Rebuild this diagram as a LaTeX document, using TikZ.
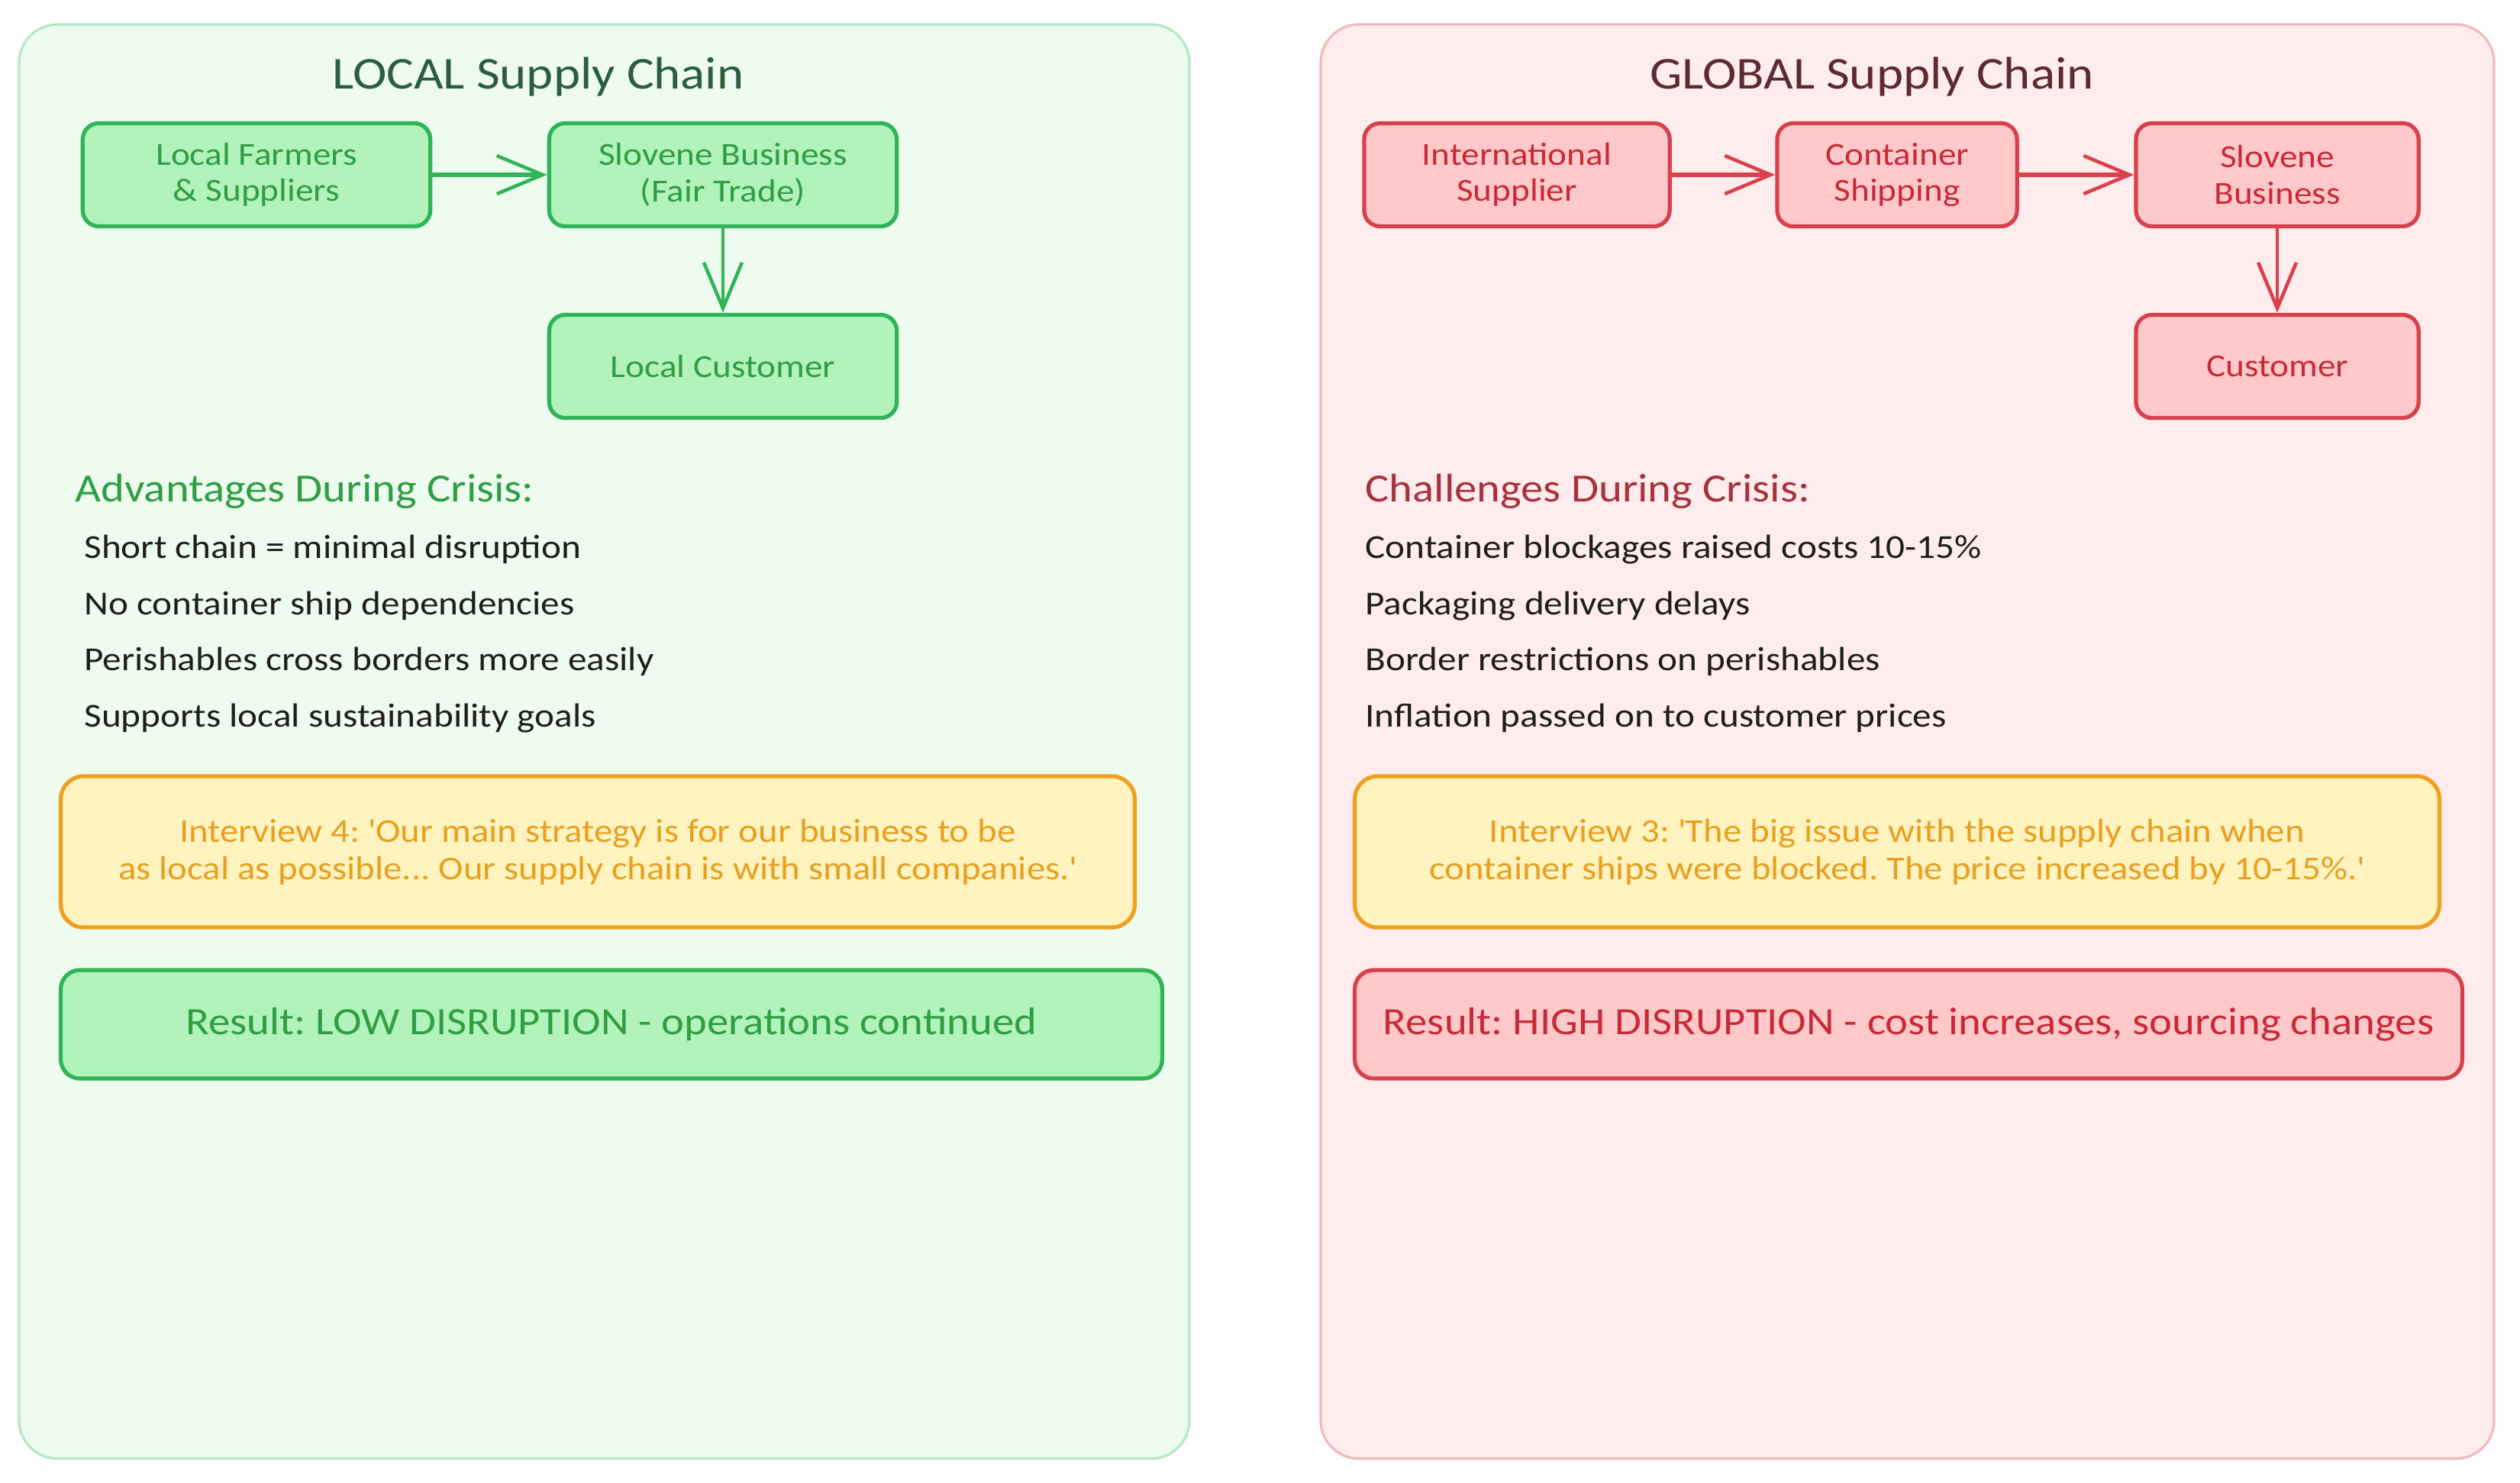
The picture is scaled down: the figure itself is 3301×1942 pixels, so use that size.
\documentclass[tikz,border=0pt]{standalone}
\usepackage{fontspec}
\setmainfont[FakeStretch=1.12]{Carlito}
\usepackage{xcolor}
\usepackage{tikz}
\usetikzlibrary{
    arrows.meta,
    positioning
}
\frenchspacing
\definecolor{panelG}{HTML}{EEFCF0}
\definecolor{panelGline}{HTML}{B4E8C4}
\definecolor{panelR}{HTML}{FFECEC}
\definecolor{panelRline}{HTML}{F2B8BE}
\definecolor{boxG}{HTML}{B2F2BB}
\definecolor{lineG}{HTML}{2FB457}
\definecolor{textG}{HTML}{2F9E44}
\definecolor{titleG}{HTML}{2B5E3C}
\definecolor{boxR}{HTML}{FFC9C9}
\definecolor{lineR}{HTML}{D9404E}
\definecolor{textR}{HTML}{C92A3A}
\definecolor{titleR}{HTML}{5C2A30}
\definecolor{headR}{HTML}{A8323E}
\definecolor{boxY}{HTML}{FFF3BF}
\definecolor{lineY}{HTML}{F0A020}
\definecolor{textY}{HTML}{E8A020}
\definecolor{ink}{HTML}{1E1E1E}
\tikzstyle{arrow} = [
    line width=1.6pt,
    -{Straight Barb[length=6mm,width=5mm,line width=1.3pt]}
]
\tikzstyle{panel} = [
    rounded corners=0.5cm,
    line width=0.9pt
]
\tikzstyle{chainbox} = [
    draw,
    rounded corners=0.21cm,
    line width=1.5pt,
    align=center,
    font=\fontsize{12}{13.5}\selectfont,
    minimum height=1.35cm
]
\tikzstyle{quotebox} = [
    draw=lineY,
    fill=boxY,
    text=textY,
    rounded corners=0.3cm,
    line width=1.5pt,
    align=center,
    font=\fontsize{12.4}{14}\selectfont,
    minimum height=1.98cm
]
\tikzstyle{resultbox} = [
    draw,
    rounded corners=0.25cm,
    line width=1.5pt,
    font=\fontsize{14.4}{16}\selectfont,
    minimum height=1.42cm
]
\tikzstyle{title} = [
    font=\fontsize{17}{20}\selectfont
]
\tikzstyle{heading} = [
    anchor=west,
    font=\fontsize{14.9}{17}\selectfont
]
\tikzstyle{item} = [
    anchor=west,
    text=ink,
    font=\fontsize{12.5}{15}\selectfont
]
\begin{document}
\begin{tikzpicture}[x=0.01cm,y=-0.01cm]
\useasboundingbox (0,0) rectangle (3301,1942);
\draw[panel,fill=panelG,draw=panelGline] (25,32) rectangle (1558,1911);
\draw[panel,fill=panelR,draw=panelRline] (1730,32) rectangle (3267,1911);

\node[title,text=titleG] (titleL) at (705,101) {LOCAL Supply Chain};
\node[chainbox,draw=lineG,fill=boxG,text=textG,minimum width=4.55cm] (farmers) at (336,229) {Local Farmers\\\& Suppliers};
\node[chainbox,draw=lineG,fill=boxG,text=textG,minimum width=4.55cm] (slovL) at (947,229) {Slovene Business\\(Fair Trade)};
\node[chainbox,draw=lineG,fill=boxG,text=textG,minimum width=4.55cm] (custL) at (947,480) {Local Customer};
\draw[arrow,lineG] (farmers) -- (slovL);
\draw[arrow,lineG,line width=1.1pt] (slovL) -- (custL);

\node[heading,text=textG] (advL) at (86,644) {Advantages During Crisis:};
\node[item] (itemL1) at (98,720) {Short chain = minimal disruption};
\node[item] (itemL2) at (98,794) {No container ship dependencies};
\node[item] (itemL3) at (98,867) {Perishables cross borders more easily};
\node[item] (itemL4) at (98,941) {Supports local sustainability goals};

\node[quotebox,minimum width=14.06cm] (quoteL) at (783,1116) {Interview 4: \textquotesingle Our main strategy is for our business to be\\as local as possible... Our supply chain is with small companies.\textquotesingle};
\node[resultbox,draw=lineG,fill=boxG,text=textG,minimum width=14.42cm] (resultL) at (801,1342) {Result: LOW DISRUPTION - operations continued};

\node[title,text=titleR] (titleG) at (2452,101) {GLOBAL Supply Chain};
\node[chainbox,draw=lineR,fill=boxR,text=textR,minimum width=4.0cm] (intl) at (1987,229) {International\\Supplier};
\node[chainbox,draw=lineR,fill=boxR,text=textR,minimum width=3.14cm] (ship) at (2485,229) {Container\\Shipping};
\node[chainbox,draw=lineR,fill=boxR,text=textR,minimum width=3.7cm] (slovG) at (2983,229) {Slovene\\Business};
\node[chainbox,draw=lineR,fill=boxR,text=textR,minimum width=3.7cm] (custG) at (2983,480) {Customer};
\draw[arrow,lineR] (intl) -- (ship);
\draw[arrow,lineR] (ship) -- (slovG);
\draw[arrow,lineR,line width=1.1pt] (slovG) -- (custG);

\node[heading,text=headR] (chalG) at (1776,644) {Challenges During Crisis:};
\node[item] (itemG1) at (1776,720) {Container blockages raised costs 10-15\%};
\node[item] (itemG2) at (1776,794) {Packaging delivery delays};
\node[item] (itemG3) at (1776,867) {Border restrictions on perishables};
\node[item] (itemG4) at (1776,941) {Inflation passed on to customer prices};

\node[quotebox,minimum width=14.2cm] (quoteG) at (2485,1116) {Interview 3: \textquotesingle The big issue with the supply chain when\\container ships were blocked. The price increased by 10-15\%.\textquotesingle};
\node[resultbox,draw=lineR,fill=boxR,text=textR,minimum width=14.5cm] (resultG) at (2500,1342) {Result: HIGH DISRUPTION - cost increases, sourcing changes};
\end{tikzpicture}
\end{document}
